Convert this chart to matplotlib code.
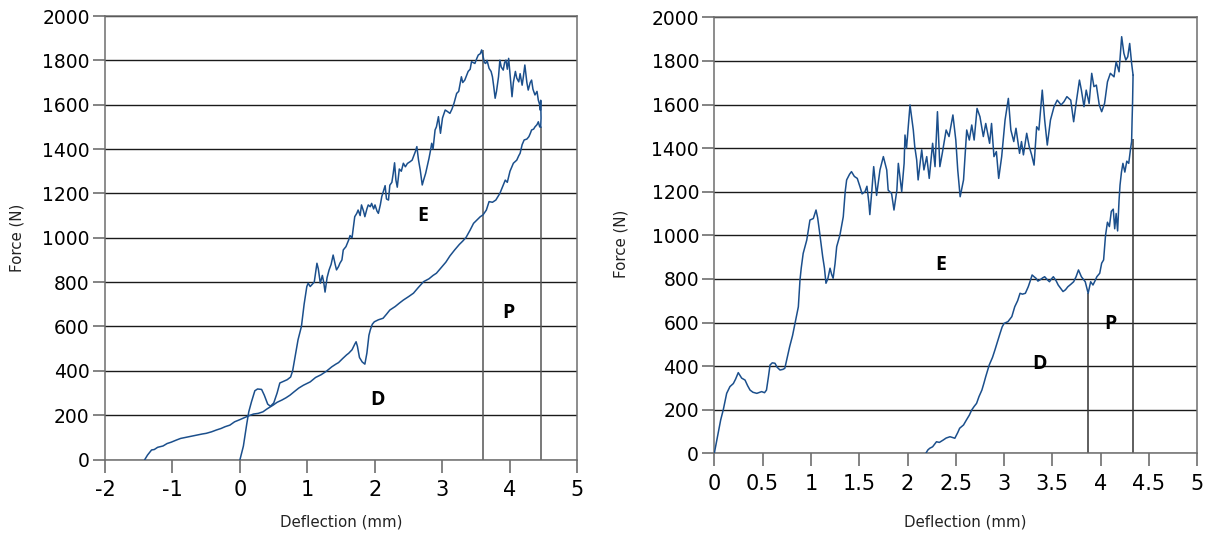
import matplotlib
matplotlib.use("Agg")
import matplotlib.pyplot as plt

# ---------------- data ----------------
# Left panel
left_E_x = [0, 0.05, 0.10, 0.13, 0.17, 0.22, 0.26, 0.32, 0.36, 0.41, 0.45, 0.50, 0.55, 0.59, 0.64, 0.70, 0.75,
            0.78, 0.82, 0.86, 0.91, 0.95, 0.99, 1.01, 1.04, 1.07, 1.10, 1.14, 1.16, 1.19, 1.22, 1.24, 1.26, 1.29,
            1.32, 1.35, 1.38, 1.41, 1.43, 1.46, 1.48, 1.51, 1.53, 1.57, 1.61, 1.63, 1.66, 1.70, 1.73, 1.75, 1.78,
            1.80, 1.83, 1.85, 1.88, 1.90, 1.93, 1.95, 1.98, 2.00, 2.03, 2.05, 2.08, 2.10, 2.13, 2.15, 2.17, 2.20,
            2.22, 2.25, 2.27, 2.29, 2.31, 2.33, 2.36, 2.39, 2.42, 2.45, 2.48, 2.52, 2.55, 2.57, 2.60, 2.62, 2.645,
            2.67, 2.70, 2.72, 2.75, 2.78, 2.80, 2.82, 2.84, 2.86, 2.89, 2.91, 2.94, 2.97, 3.00, 3.04, 3.07, 3.11,
            3.14, 3.17, 3.21, 3.24, 3.28, 3.30, 3.33, 3.38, 3.41, 3.43, 3.48, 3.51, 3.53, 3.56, 3.58, 3.60, 3.62,
            3.64, 3.66, 3.69, 3.72, 3.74, 3.76, 3.78, 3.80, 3.83, 3.85, 3.87, 3.90, 3.92, 3.94, 3.96, 3.98, 4.00,
            4.03, 4.05, 4.08, 4.10, 4.13, 4.15, 4.18, 4.20, 4.22, 4.25, 4.27, 4.30, 4.32, 4.34, 4.37, 4.40, 4.42,
            4.44, 4.45, 4.455, 4.46, 4.455]
left_E_f = [0, 60, 160, 215, 260, 310, 318, 316, 290, 250, 240, 255, 300, 345, 352, 360, 372,
            400, 470, 540, 600, 700, 780, 795, 780, 790, 800, 885, 860, 795, 830, 800, 755, 820,
            855, 880, 922, 880, 855, 870, 885, 900, 945, 960, 990, 1010, 1000, 1095, 1110, 1125, 1100,
            1148, 1120, 1095, 1130, 1148, 1140, 1155, 1130, 1148, 1120, 1110, 1150, 1185, 1215, 1235, 1175, 1170,
            1237, 1250, 1290, 1338, 1260, 1228, 1310, 1300, 1336, 1320, 1335, 1343, 1350, 1366, 1390, 1411, 1350,
            1306, 1238, 1260, 1290, 1330, 1358, 1390, 1426, 1400, 1486, 1500, 1546, 1471, 1540, 1576, 1570, 1561,
            1580, 1606, 1651, 1660, 1726, 1700, 1711, 1750, 1760, 1794, 1786, 1810, 1824, 1830, 1847, 1820, 1790,
            1786, 1800, 1764, 1750, 1726, 1680, 1629, 1660, 1726, 1801, 1770, 1756, 1790, 1801, 1760, 1809, 1740,
            1636, 1700, 1750, 1720, 1703, 1740, 1688, 1730, 1779, 1700, 1666, 1700, 1711, 1670, 1644, 1660, 1620,
            1600, 1575, 1620, 1540, 1500]

left_D_x = [-1.41, -1.37, -1.31, -1.27, -1.22, -1.18, -1.14, -1.08, -1.02, -0.94, -0.88, -0.80, -0.72, -0.64,
            -0.56, -0.50, -0.42, -0.35, -0.28, -0.22, -0.15, -0.08, 0.00, 0.06, 0.12, 0.20, 0.27, 0.34, 0.40, 0.49,
            0.55, 0.62, 0.68, 0.74, 0.80, 0.87, 0.94, 1.04, 1.12, 1.20, 1.28, 1.36, 1.42, 1.46, 1.52, 1.58, 1.61,
            1.66, 1.70, 1.72, 1.74, 1.77, 1.81, 1.85, 1.88, 1.91, 1.93, 1.96, 1.99, 2.05, 2.12, 2.17, 2.22, 2.30,
            2.36, 2.42, 2.50, 2.57, 2.64, 2.72, 2.80, 2.86, 2.91, 2.98, 3.05, 3.11, 3.18, 3.25, 3.30, 3.35, 3.41,
            3.46, 3.51, 3.56, 3.60, 3.65, 3.69, 3.74, 3.79, 3.82, 3.85, 3.89, 3.93, 3.96, 4.00, 4.05, 4.10, 4.13,
            4.15, 4.18, 4.21, 4.25, 4.28, 4.30, 4.32, 4.35, 4.37, 4.40, 4.42, 4.44, 4.455]
left_D_f = [0, 20, 43, 45, 55, 58, 61, 72, 78, 88, 95, 100, 105, 110,
            115, 118, 125, 133, 140, 148, 155, 170, 180, 188, 196, 205, 208, 215, 228, 245,
            258, 268, 278, 290, 305, 322, 335, 350, 370, 382, 398, 418, 430, 437, 455, 472, 479,
            495, 520, 531, 510, 460, 440, 430, 480, 560, 584, 610, 621, 630, 637, 655, 674, 690,
            705, 719, 735, 750, 775, 802, 815, 830, 840, 865, 890, 918, 945, 970, 985, 1002, 1035,
            1065, 1080, 1095, 1103, 1125, 1163, 1160, 1170, 1185, 1200, 1230, 1260, 1250, 1300, 1336, 1350, 1370,
            1381, 1420, 1441, 1445, 1456, 1470, 1486, 1490, 1500, 1510, 1523, 1500, 1500]

left_vlines_x = [3.60, 4.455]
left_vlines_top = [1847, 1500]

# Right panel
right_E_x = [0, 0.04, 0.066, 0.093, 0.128, 0.162, 0.197, 0.22, 0.248, 0.283, 0.318, 0.345, 0.37, 0.40, 0.44,
             0.47, 0.49, 0.52, 0.54, 0.56, 0.577, 0.60, 0.628, 0.65, 0.68, 0.71, 0.73, 0.755, 0.78, 0.81, 0.835,
             0.87, 0.887, 0.90, 0.92, 0.957, 0.99, 1.025, 1.053, 1.07, 1.087, 1.105, 1.122, 1.14, 1.156, 1.175,
             1.198, 1.215, 1.23, 1.25, 1.267, 1.30, 1.335, 1.355, 1.37, 1.40, 1.42, 1.45, 1.48, 1.51, 1.53, 1.56,
             1.58, 1.60, 1.61, 1.63, 1.65, 1.68, 1.70, 1.715, 1.75, 1.785, 1.80, 1.835, 1.86, 1.89, 1.905, 1.94,
             1.965, 1.974, 1.99, 2.026, 2.06, 2.075, 2.095, 2.11, 2.147, 2.17, 2.199, 2.225, 2.26, 2.285, 2.31,
             2.335, 2.36, 2.40, 2.43, 2.47, 2.50, 2.52, 2.545, 2.58, 2.613, 2.64, 2.665, 2.69, 2.72, 2.75, 2.785,
             2.81, 2.85, 2.87, 2.895, 2.92, 2.944, 2.975, 3.01, 3.044, 3.07, 3.10, 3.123, 3.16, 3.18, 3.20, 3.234,
             3.26, 3.285, 3.31, 3.337, 3.36, 3.395, 3.42, 3.447, 3.48, 3.517, 3.55, 3.59, 3.62, 3.65, 3.69, 3.72,
             3.75, 3.78, 3.80, 3.827, 3.85, 3.88, 3.907, 3.93, 3.955, 3.985, 4.01, 4.04, 4.07, 4.10, 4.138, 4.16,
             4.19, 4.217, 4.24, 4.26, 4.28, 4.30, 4.32, 4.335]
right_E_f = [0, 92, 153, 200, 275, 306, 320, 340, 370, 345, 336, 310, 290, 280, 275,
             280, 283, 278, 290, 350, 405, 415, 413, 395, 382, 385, 390, 440, 489, 540, 596,
             672, 795, 850, 917, 978, 1070, 1077, 1116, 1080, 1024, 960, 902, 850, 780, 800,
             849, 820, 803, 870, 948, 1000, 1085, 1200, 1254, 1280, 1292, 1270, 1261, 1220, 1190, 1200,
             1225, 1150, 1095, 1200, 1315, 1183, 1250, 1300, 1361, 1300, 1207, 1192, 1116, 1207, 1330, 1200,
             1330, 1460, 1400, 1598, 1483, 1407, 1346, 1254, 1392, 1300, 1361, 1261, 1422, 1315, 1567,
             1315, 1376, 1483, 1453, 1552, 1437, 1300, 1177, 1254, 1483, 1437, 1506, 1437, 1582, 1544, 1453,
             1513, 1422, 1513, 1361, 1384, 1261, 1361, 1529, 1628, 1483, 1430, 1491, 1376, 1430, 1369, 1468,
             1407, 1369, 1322, 1498, 1483, 1666, 1529, 1414, 1529, 1590, 1620, 1598, 1613, 1636, 1620, 1521,
             1620, 1712, 1666, 1590, 1666, 1605, 1743, 1682, 1689, 1598, 1567, 1605, 1704, 1743, 1727, 1796,
             1750, 1911, 1835, 1804, 1819, 1880, 1789, 1735]

right_D_x = [2.19, 2.21, 2.23, 2.26, 2.30, 2.33, 2.37, 2.40, 2.44, 2.47, 2.49, 2.52, 2.54, 2.58, 2.61, 2.64,
             2.665, 2.69, 2.715, 2.74, 2.77, 2.79, 2.81, 2.846, 2.88, 2.905, 2.93, 2.958, 2.98, 3.0, 3.04, 3.08,
             3.11, 3.14, 3.165, 3.19, 3.22, 3.25, 3.27, 3.29, 3.31, 3.33, 3.35, 3.37, 3.40, 3.42, 3.45, 3.47,
             3.49, 3.51, 3.54, 3.56, 3.58, 3.61, 3.635, 3.66, 3.69, 3.72, 3.745, 3.77, 3.80, 3.84, 3.87, 3.896,
             3.92, 3.94, 3.96, 3.99, 4.01, 4.03, 4.05, 4.07, 4.09, 4.11, 4.13, 4.145, 4.16, 4.175, 4.19, 4.20,
             4.215, 4.23, 4.25, 4.27, 4.29, 4.31, 4.32, 4.325, 4.33, 4.335]
right_D_f = [0, 15, 23, 30, 53, 50, 61, 70, 76, 72, 69, 95, 115, 130, 153, 175,
             199, 215, 229, 260, 290, 320, 352, 405, 440, 474, 510, 550, 580, 596, 604, 627,
             672, 700, 734, 730, 734, 764, 790, 818, 810, 803, 790, 795, 805, 810, 795, 787,
             800, 810, 790, 772, 760, 742, 750, 764, 775, 787, 810, 841, 810, 787, 734, 787,
             772, 790, 810, 826, 872, 887, 1000, 1060, 1040, 1110, 1120, 1030, 1100, 1020, 1160, 1230,
             1290, 1330, 1290, 1340, 1330, 1400, 1430, 1530, 1610, 1735]

right_vlines_x = [3.87, 4.33]
right_vlines_top = [734, 1440]

left_xticks = [-2, -1, 0, 1, 2, 3, 4, 5]
right_xticks = [0, 0.5, 1, 1.5, 2, 2.5, 3, 3.5, 4, 4.5, 5]
right_xticklabels = ["0", "0.5", "1", "1.5", "2", "2.5", "3", "3.5", "4", "4.5", "5"]
yticks = [0, 200, 400, 600, 800, 1000, 1200, 1400, 1600, 1800, 2000]

left_labels = [("E", 2.71, 1096), ("D", 2.03, 270), ("P", 3.98, 662)]
right_labels = [("E", 2.34, 866), ("D", 3.37, 408), ("P", 4.10, 593)]

# ---------------- style ----------------
CURVE = "#1b4f8c"
VLINE = "#555555"
GRID = "#1a1a1a"
SPINE = "#6e6e6e"

fig = plt.figure(figsize=(12.12, 5.38), dpi=100)
ax1 = fig.add_axes([0.08663, 0.14591, 0.38985, 0.82435])
ax2 = fig.add_axes([0.58936, 0.15743, 0.39851, 0.81041])


def style(ax, xlim, xticks, xticklabels):
    ax.set_xlim(*xlim)
    ax.set_ylim(0, 2000)
    ax.set_xticks(xticks)
    ax.set_xticklabels(xticklabels, fontsize=15, family="DejaVu Sans")
    ax.set_yticks(yticks)
    ax.set_yticklabels([str(v) for v in yticks], fontsize=13.5, family="DejaVu Sans")
    ax.tick_params(axis="x", direction="out", length=9, width=1.2, color=SPINE, pad=6)
    ax.tick_params(axis="y", direction="out", length=9, width=1.2, color=SPINE, pad=2)
    ax.yaxis.grid(True, color=GRID, linewidth=1.0)
    ax.set_axisbelow(True)
    for s in ax.spines.values():
        s.set_color(SPINE)
        s.set_linewidth(1.1)
    ax.set_xlabel("Deflection (mm)", fontsize=10.8, color="#222222")
    ax.set_ylabel("Force (N)", fontsize=10.8, color="#222222")


style(ax1, (-2, 5), left_xticks, [str(v) for v in left_xticks])
style(ax2, (0, 5), right_xticks, right_xticklabels)
ax1.xaxis.set_label_coords(0.5, -0.125)
ax1.yaxis.set_label_coords(-0.171, 0.5)
ax2.xaxis.set_label_coords(0.52, -0.14)
ax2.yaxis.set_label_coords(-0.177, 0.48)

# vertical lines
for x, top in zip(left_vlines_x, left_vlines_top):
    ax1.vlines(x, 0, top, color=VLINE, linewidth=1.1, zorder=2)
for x, top in zip(right_vlines_x, right_vlines_top):
    ax2.vlines(x, 0, top, color="#333333", linewidth=1.1, zorder=2)

# curves
ax1.plot(left_E_x, left_E_f, color=CURVE, linewidth=1.1, zorder=3)
ax1.plot(left_D_x, left_D_f, color=CURVE, linewidth=1.1, zorder=3)
ax2.plot(right_E_x, right_E_f, color=CURVE, linewidth=1.1, zorder=3)
ax2.plot(right_D_x, right_D_f, color=CURVE, linewidth=1.1, zorder=3)

for ax, labels in ((ax1, left_labels), (ax2, right_labels)):
    for t, x, y in labels:
        ax.text(x, y, t, fontsize=14, fontweight="bold", family="Open Sans",
                ha="center", va="center", color="black", zorder=4)

fig.savefig("out.png", dpi=100)
